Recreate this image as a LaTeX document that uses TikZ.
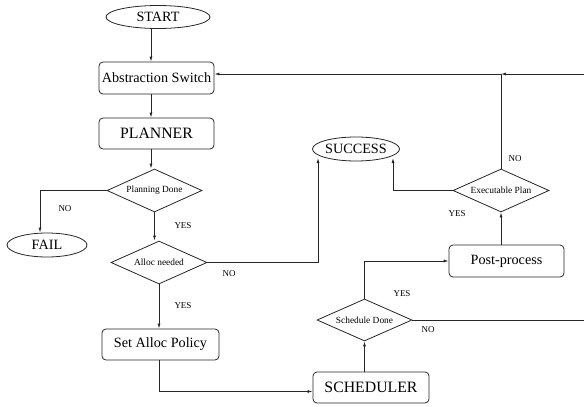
\documentclass[tikz,border=0pt]{standalone}
\usepackage{fontspec}
\setmainfont{Liberation Serif}
\usetikzlibrary{shapes.geometric,arrows.meta}
\begin{document}
\begin{tikzpicture}[x=1pt,y=-1pt,line width=0.8pt,
  ln/.style={draw=black!85},
  arr/.style={ln,-{Latex[length=5pt,width=3pt]}},
  box/.style={draw=black!85,rounded corners=4pt,minimum width=115pt,minimum height=32pt,inner sep=0pt,font=\fontsize{14.2}{16}\selectfont},
  bigbox/.style={box,font=\fontsize{15.8}{18}\selectfont},
  term/.style={draw=black!85,ellipse,inner sep=0pt,minimum width=80pt,minimum height=24pt,font=\fontsize{14.2}{16}\selectfont},
  dia/.style={draw=black!85,diamond,shape aspect=2.25,inner sep=0pt,minimum width=95pt,minimum height=43pt,font=\fontsize{9.4}{11}\selectfont},
  lab/.style={font=\fontsize{9}{10}\selectfont,inner sep=0pt}]
\useasboundingbox (0,0) rectangle (584,407);
% nodes
\node[term,minimum width=104pt,minimum height=23pt] (start) at (158,17) {START};
\node[box] (as) at (156.5,78) {Abstraction Switch};
\node[bigbox,minimum height=31pt] (pl) at (156.5,133.5) {PLANNER};
\node[dia] (pd) at (154.5,190.5) {Planning Done};
\node[term] (fail) at (47,245) {FAIL};
\node[dia,minimum width=96pt] (an) at (159,262.5) {Alloc needed};
\node[box,minimum width=117pt,minimum height=31pt] (sap) at (160.5,344.5) {Set Alloc Policy};
\node[bigbox,minimum width=116pt,minimum height=31pt] (sch) at (371,387.5) {SCHEDULER};
\node[dia,minimum height=42pt] (sd) at (364.5,320) {Schedule Done};
\node[box] (pp) at (506.5,261) {Post-process};
\node[dia,minimum width=96pt] (ep) at (501,190.5) {Executable Plan};
\node[term] (succ) at (356,149) {SUCCESS};
\coordinate (r1) at (584,74);
\coordinate (r2) at (584,320);
\coordinate (s1) at (318,158);
\coordinate (s2) at (393,158);
% labels
\node[lab] (l1) at (65,209) {NO};
\node[lab] (l2) at (183,226) {YES};
\node[lab] (l3) at (229,274) {NO};
\node[lab] (l4) at (183,306) {YES};
\node[lab] (l5) at (402,294) {YES};
\node[lab] (l6) at (428,330) {NO};
\node[lab] (l7) at (457,214) {YES};
\node[lab] (l8) at (515,159) {NO};
% connectors
\draw[arr] ([xshift=-7pt]start.south) -- ([xshift=-7pt]start.south |- as.north);
\draw[arr] ([xshift=-5.5pt]as.south) -- ([xshift=-5.5pt]as.south |- pl.north);
\draw[arr] ([xshift=-5.5pt]pl.south) -- ([xshift=-5.5pt]pl.south |- pd.north);
\draw[arr] (pd.west) -| ([xshift=-7pt]fail.north);
\draw[arr] (pd.south) -- (pd.south |- an.north);
\draw[arr] (an.east) -| (s1);
\draw[arr] (an.south) -- (an.south |- sap.north);
\draw[arr] (an.south |- sap.south) |- ([yshift=-4pt]sch.west);
\draw[arr] (sd.south |- sch.north) -- (sd.south);
\draw[arr] (sd.north) |- (pp.west);
\draw[ln] (sd.east) -- (r2);
\draw[arr] (ep.south |- pp.north) -- (ep.south);
\draw[arr] (ep.west) -| (s2);
\draw[ln] (ep.north) -- (ep.north |- r1);
\draw[arr] (r1) -- (ep.north |- r1);
\draw[arr] (ep.north |- r1) -- (as.east |- r1);
\end{tikzpicture}
\end{document}
